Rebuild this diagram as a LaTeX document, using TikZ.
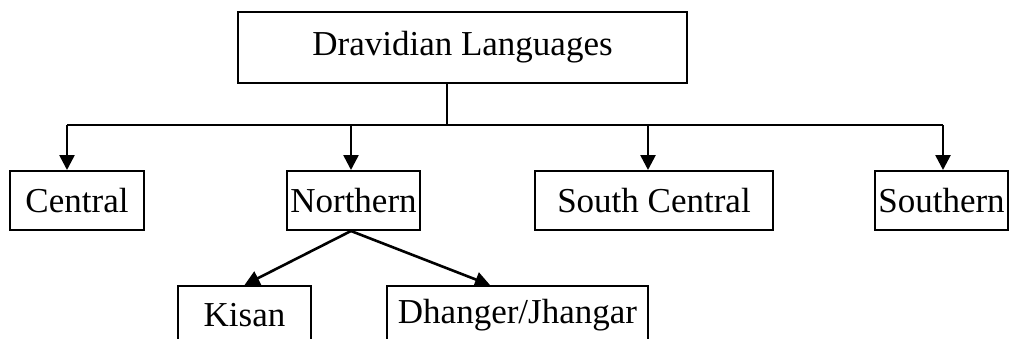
\documentclass[tikz,border=0pt]{standalone}
\usepackage{fontspec}
\setmainfont{Liberation Serif}
\usetikzlibrary{arrows.meta}
\begin{document}
\begin{tikzpicture}[x=0.5pt, y=-0.5pt,
  every node/.style={font={\fontsize{17.5}{20}\selectfont}, draw=black, line width=1pt, rectangle, inner sep=0pt, minimum height=29.5pt},
  branch/.style={line width=1.3pt, -{Triangle[length=7.5pt, width=7.5pt]}},
  link/.style={line width=1.2pt}]
\useasboundingbox (0,0) rectangle (1010,338);
\node[minimum width=224.5pt, minimum height=35.5pt] (dravidian) at (462.5,47.5) {Dravidian Languages};
\node[minimum width=67pt] (central) at (77,200.5) {Central};
\node[minimum width=66.5pt] (northern) at (353.5,200.5) {Northern};
\node[minimum width=119pt] (southcentral) at (654,200.5) {South Central};
\node[minimum width=66.5pt] (southern) at (941.5,200.5) {Southern};
\node[minimum width=66.5pt] (kisan) at (244.5,315.5) {Kisan};
\node[minimum width=130.5pt] (dhanger) at (517.5,315.5) {Dhanger/Jhangar};
\coordinate (hub) at (447,125);
\coordinate (c1) at (67,125);
\coordinate (c2) at (351,125);
\coordinate (c3) at (648,125);
\coordinate (c4) at (943,125);
\coordinate (dtip) at (490,285);
\draw[link] (dravidian.south -| hub) -- (hub);
\draw[link] (c1) -- (c4);
\draw[branch] (c1) -- (c1 |- central.north);
\draw[branch] (c2) -- (c2 |- northern.north);
\draw[branch] (c3) -- (c3 |- southcentral.north);
\draw[branch] (c4) -- (c4 |- southern.north);
\draw[branch] (northern.south -| c2) -- (kisan.north);
\draw[branch] (northern.south -| c2) -- (dtip);
\end{tikzpicture}
\end{document}
